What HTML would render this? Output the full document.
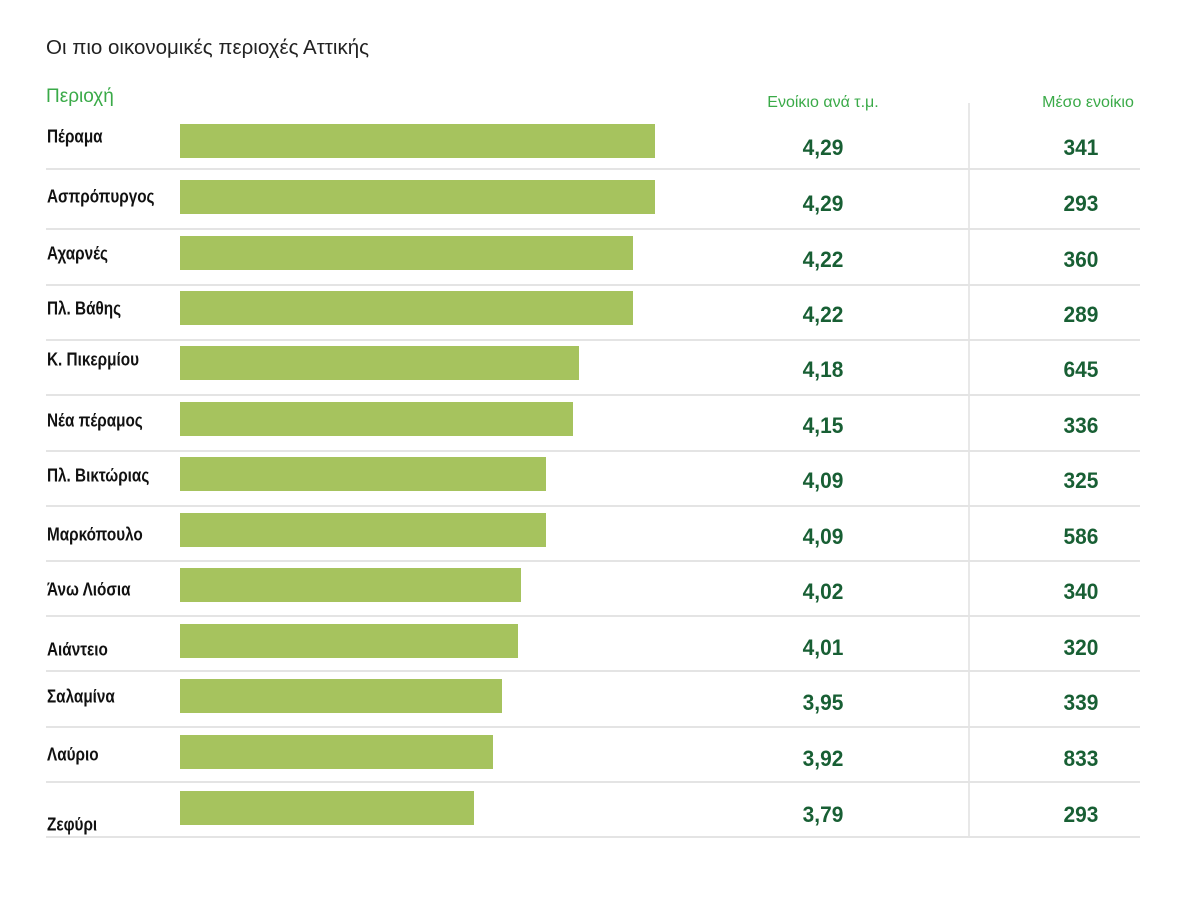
<!DOCTYPE html><html><head><meta charset="utf-8"><style>
body{margin:0;width:1200px;height:899px;background:#fff;position:relative;overflow:hidden;font-family:"Liberation Sans",sans-serif}
div{position:absolute;white-space:nowrap}
.t{left:46px;top:36px;font-size:20.5px;color:#222}
.h{color:#3aaa48;font-size:16px}
.l{left:47px;font-weight:bold;font-size:18px;color:#111;transform:translateY(-50%) scaleX(0.85);transform-origin:left}
.b{left:180px;height:34px;background:#a6c35e}
.s{left:46px;width:1094px;height:2px;background:#e4e4e4}
.v{font-weight:bold;font-size:22px;color:#185f34;width:120px;text-align:center;transform:translateY(-50%) scaleX(0.95)}
</style></head><body>
<div class="t">Οι πιο οικονομικές περιοχές Αττικής</div>
<div class="h" style="left:46px;top:86px;font-size:19px">Περιοχή</div>
<div class="h" style="left:763px;top:94px;width:120px;text-align:center">Ενοίκιο ανά τ.μ.</div>
<div class="h" style="left:1028px;top:94px;width:120px;text-align:center">Μέσο ενοίκιο</div>
<div style="left:968px;top:103px;width:2px;height:733px;background:#e8e8e8"></div>
<div id="r"></div>
<script>
var d=[["Πέραμα",655,"4,29","341",137],["Ασπρόπυργος",655,"4,29","293",197],["Αχαρνές",633,"4,22","360",254],["Πλ. Βάθης",633,"4,22","289",309],["Κ. Πικερμίου",579,"4,18","645",360],["Νέα πέραμος",573,"4,15","336",421],["Πλ. Βικτώριας",546,"4,09","325",476],["Μαρκόπουλο",546,"4,09","586",535],["Άνω Λιόσια",521,"4,02","340",590],["Αιάντειο",518,"4,01","320",650],["Σαλαμίνα",502,"3,95","339",697],["Λαύριο",493,"3,92","833",755],["Ζεφύρι",474,"3,79","293",825]];
var bt=[124,180,236,291,346,402,457,513,568,624,679,735,791];
var sp=[168,228,284,339,394,450,505,560,615,670,726,781,836];
var h="";
d.forEach(function(r,i){
var vy=bt[i]+24;
h+='<div class="b" style="top:'+bt[i]+'px;width:'+(r[1]-180)+'px"></div>';
h+='<div class="l" style="top:'+r[4]+'px">'+r[0]+'</div>';
h+='<div class="v" style="left:763px;top:'+vy+'px">'+r[2]+'</div>';
h+='<div class="v" style="left:1021px;top:'+vy+'px">'+r[3]+'</div>';
h+='<div class="s" style="top:'+sp[i]+'px"></div>';
});
document.getElementById("r").outerHTML=h;
</script>
</body></html>
